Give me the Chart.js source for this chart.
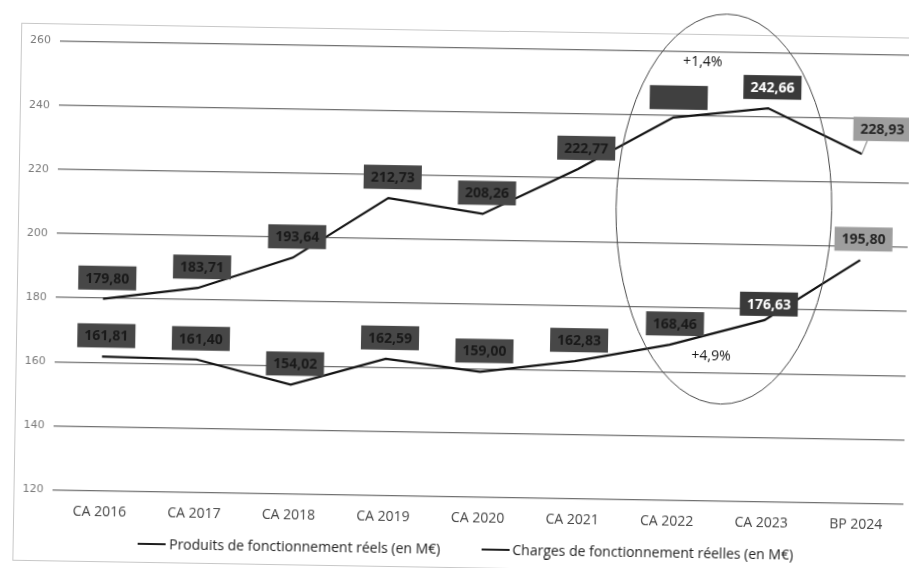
<!DOCTYPE html>
<html lang="fr">
<head>
<meta charset="utf-8">
<title>Produits et charges de fonctionnement</title>
<script src="https://cdn.jsdelivr.net/npm/chart.js@4.4.1/dist/chart.umd.min.js"></script>
<style>
    html, body { margin: 0; padding: 0; background: #fff; width: 909px; height: 568px; overflow: hidden; }
    /* page scannée légèrement de travers */
    #page { position: absolute; left: 0; top: 0; width: 909px; height: 568px; transform: rotate(0.95deg); transform-origin: 454px 284px; }
    #cadre { position: absolute; left: 17px; top: 30px; width: 960px; height: 536px; border: 1px solid #c8c8c8; }
    #graph { position: absolute; left: 0; top: 0; }
    #legende { position: absolute; left: 0; top: 539px; width: 940px; display: flex; justify-content: center; gap: 41px;
               font: 14px 'Open Sans', sans-serif; color: #222; }
    .item { display: flex; align-items: center; }
    .trait { width: 28px; height: 2px; background: #1e1e1e; margin-right: 3px; }
</style>
</head>
<body>
<div id="page">
    <div id="cadre"></div>
    <canvas id="graph" width="940" height="540"></canvas>
    <div id="legende"></div>
</div>
<script>
// Données (en M€)
const categories = ['CA 2016', 'CA 2017', 'CA 2018', 'CA 2019', 'CA 2020', 'CA 2021', 'CA 2022', 'CA 2023', 'BP 2024'];
const produits = [179.80, 183.71, 193.64, 212.73, 208.26, 222.77, 239.31, 242.66, 228.93];
const charges = [161.81, 161.40, 154.02, 162.59, 159.00, 162.83, 168.46, 176.63, 195.80];
const yMin = 120;
const yMax = 260;
const yPas = 20;

// Style des étiquettes : 'sombre', 'blanc', 'clair' ou 'masque' (cadre sans texte)
const stylesProduits = ['sombre', 'sombre', 'sombre', 'sombre', 'sombre', 'sombre', 'masque', 'blanc', 'clair'];
const stylesCharges = ['sombre', 'sombre', 'sombre', 'sombre', 'sombre', 'sombre', 'sombre', 'blanc', 'clair'];
// décalage [dx, dy] du centre de l'étiquette par rapport au point
const decalProduits = [[4, -21], [4, -21], [4, -21], [4, -21], [4, -21], [8, -21], [5, -20], [4, -21], [20, -25]];
const decalCharges = [[4, -21], [4, -21], [4, -21], [4, -21], [4, -21], [4, -21], [5, -21], [4, -16], [3, -21]];

// Annotations du zoom 2022-2023
const evolutions = [
    { texte: '+1,4%', x: 6.3, y: 256.8 },
    { texte: '+4,9%', x: 6.44, y: 165.1 }
];
const ellipse = { x: 6.55, y: 211, rx: 1.14, ry: 60.8 };

function formatFr(v) {
    return v.toFixed(2).replace('.', ',');
}

const couleursEtiquettes = {
    sombre: { fond: '#474747', texte: '#1a1a1a' },
    blanc: { fond: '#3a3a3a', texte: '#ffffff' },
    clair: { fond: '#9e9e9e', texte: '#262626' },
    masque: { fond: '#404040', texte: null }
};

const pluginEtiquettes = {
    id: 'etiquettes',
    afterDatasetsDraw(chart) {
        const ctx = chart.ctx;
        const x = chart.scales.x;
        const y = chart.scales.y;
        const pasX = x.getPixelForValue(1) - x.getPixelForValue(0);
        const x0 = x.getPixelForValue(0);

        // ellipse autour de 2022-2023
        const cx = x0 + pasX * ellipse.x;
        const cy = y.getPixelForValue(ellipse.y);
        const ry = y.getPixelForValue(ellipse.y - ellipse.ry) - cy;
        ctx.save();
        ctx.strokeStyle = '#4a4a4a';
        ctx.lineWidth = 1;
        ctx.beginPath();
        ctx.ellipse(cx, cy, ellipse.rx * pasX, ry, 0, 0, Math.PI * 2);
        ctx.stroke();

        ctx.font = "14px 'Open Sans'";
        ctx.fillStyle = '#111';
        ctx.textAlign = 'center';
        ctx.textBaseline = 'middle';
        evolutions.forEach(e => {
            ctx.fillText(e.texte, x0 + pasX * e.x, y.getPixelForValue(e.y));
        });

        const series = [
            { styles: stylesProduits, decal: decalProduits },
            { styles: stylesCharges, decal: decalCharges }
        ];
        chart.data.datasets.forEach((ds, i) => {
            const meta = chart.getDatasetMeta(i);
            meta.data.forEach((pt, j) => {
                const c = couleursEtiquettes[series[i].styles[j]];
                const [dx, dy] = series[i].decal[j];
                const bx = pt.x + dx;
                const by = pt.y + dy;
                const w = 58, h = 24;
                if (dx > 15) {
                    // trait de rappel vers l'étiquette décalée
                    ctx.strokeStyle = '#8a8a8a';
                    ctx.lineWidth = 1.2;
                    ctx.beginPath();
                    ctx.moveTo(pt.x, pt.y);
                    ctx.lineTo(bx - w / 2 + 14, by + h / 2);
                    ctx.stroke();
                }
                ctx.fillStyle = c.fond;
                ctx.fillRect(bx - w / 2, by - h / 2, w, h);
                if (c.texte) {
                    ctx.fillStyle = c.texte;
                    ctx.font = "bold 14px 'Open Sans'";
                    ctx.fillText(formatFr(ds.data[j]), bx, by + 1);
                }
            });
        });
        ctx.restore();
    }
};

const ctx = document.getElementById('graph').getContext('2d');
const graphique = new Chart(ctx, {
    type: 'line',
    data: {
        labels: categories,
        datasets: [{
            label: 'Produits de fonctionnement réels (en M€)',
            data: produits,
            borderColor: '#141414',
            borderWidth: 2.2,
            pointRadius: 0,
            tension: 0
        }, {
            label: 'Charges de fonctionnement réelles (en M€)',
            data: charges,
            borderColor: '#141414',
            borderWidth: 2.2,
            pointRadius: 0,
            tension: 0
        }]
    },
    options: {
        responsive: false,
        animation: false,
        devicePixelRatio: 1,
        layout: {
            padding: { left: 0, top: 47.5, right: 33, bottom: 13.5 }
        },
        plugins: {
            legend: { display: false },
            tooltip: { enabled: false }
        },
        scales: {
            x: {
                offset: true,
                grid: { display: false, drawTicks: false },
                border: { display: false },
                ticks: {
                    padding: 13,
                    maxRotation: 0,
                    autoSkip: false,
                    color: '#444',
                    font: { family: 'Open Sans', size: 14 }
                },
                afterFit(scale) { scale.height = 30; }
            },
            y: {
                min: yMin,
                max: yMax,
                grid: { color: '#707070', lineWidth: 1.3, drawTicks: false },
                border: { display: false },
                ticks: {
                    stepSize: yPas,
                    padding: 9,
                    color: '#7a7a7a',
                    font: { family: 'DejaVu Sans', size: 11 }
                },
                afterFit(scale) { scale.width = 56; }
            }
        }
    },
    plugins: [pluginEtiquettes]
});

// Légende sous le graphique
const legende = document.getElementById('legende');
graphique.data.datasets.forEach(ds => {
    const item = document.createElement('div');
    item.className = 'item';
    item.innerHTML = '<span class="trait"></span><span>' + ds.label + '</span>';
    legende.appendChild(item);
});
</script>
</body>
</html>
